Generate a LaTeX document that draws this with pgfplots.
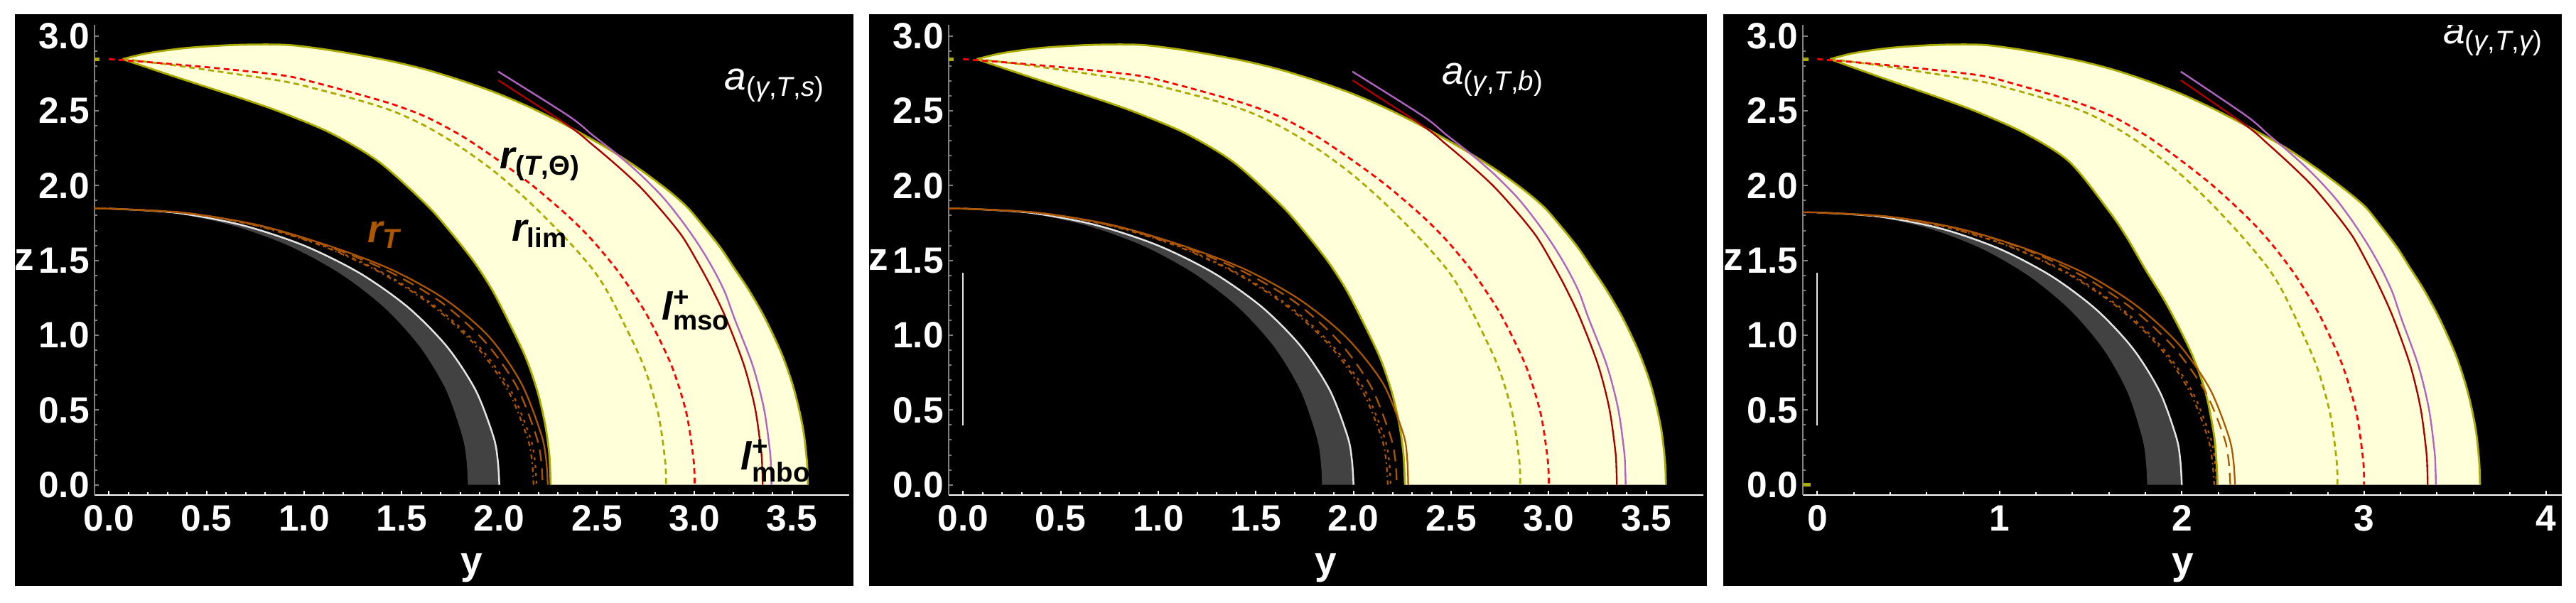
\documentclass[border=0pt]{standalone}
\usepackage{amsmath}
\usepackage{fontspec}
\setmainfont{Liberation Sans}
\usepackage{pgfplots}
\usepackage{pgfplotstable}
\pgfplotsset{compat=1.18}
\usepgfplotslibrary{fillbetween}

\definecolor{lyel}{RGB}{255,255,218}
\definecolor{oliv}{RGB}{170,170,0}
\definecolor{dkred}{RGB}{170,0,0}
\definecolor{purp}{RGB}{178,98,192}
\definecolor{orng}{RGB}{172,86,0}
\definecolor{band}{RGB}{66,66,66}
\definecolor{wline}{RGB}{228,228,228}

% outer / inner border of the yellow region
\pgfplotstableread{
x z
0.07 2.845
0.2 2.885
0.4 2.92
0.65 2.94
0.898 2.941
1.08 2.915
1.262 2.877
1.45 2.83
1.626 2.774
1.81 2.70
1.99 2.616
2.17 2.515
2.354 2.395
2.548 2.253
2.718 2.11
2.864 1.968
2.961 1.857
3.034 1.746
3.131 1.588
3.204 1.446
3.277 1.304
3.361 1.113
3.445 0.88
3.50 0.68
3.534 0.512
3.559 0.35
3.576 0.15
3.580 0
}\outerA
\pgfplotstableread{
x z
0.07 2.845
0.2 2.885
0.4 2.92
0.65 2.94
0.898 2.941
1.08 2.915
1.262 2.877
1.45 2.83
1.626 2.774
1.81 2.70
1.99 2.616
2.17 2.515
2.354 2.395
2.548 2.253
2.725 2.11
2.875 1.968
2.975 1.857
3.05 1.746
3.148 1.588
3.222 1.446
3.295 1.304
3.38 1.113
3.464 0.88
3.52 0.68
3.554 0.512
3.579 0.35
3.596 0.15
3.600 0
}\outerB
\pgfplotstableread{
x z
0.07 2.845
0.2 2.885
0.4 2.92
0.65 2.94
0.898 2.941
1.08 2.915
1.262 2.877
1.45 2.83
1.626 2.774
1.81 2.70
1.99 2.616
2.17 2.515
2.36 2.395
2.57 2.253
2.745 2.11
2.90 1.968
3.007 1.857
3.081 1.746
3.18 1.588
3.254 1.446
3.328 1.304
3.413 1.113
3.499 0.88
3.555 0.68
3.59 0.512
3.615 0.35
3.632 0.15
3.636 0
}\outerC
\pgfplotstableread{
x z
0.07 2.845
0.342 2.726
0.704 2.572
0.898 2.482
1.141 2.348
1.384 2.158
1.626 1.873
1.75 1.69
1.869 1.493
1.96 1.31
2.039 1.113
2.135 0.851
2.196 0.62
2.235 0.40
2.256 0.2
2.263 0
}\innerA
\pgfplotstableread{
x z
0.07 2.845
0.342 2.726
0.704 2.572
0.898 2.482
1.141 2.348
1.384 2.158
1.60 1.83
1.70 1.65
1.80 1.44
1.92 1.20
2.052 0.882
2.131 0.614
2.177 0.329
2.192 0.12
2.196 0
}\innerC
% dashed limits
\pgfplotstableread{
x z
0.0 2.845
0.25 2.82
0.55 2.785
0.898 2.735
1.08 2.68
1.262 2.616
1.45 2.545
1.626 2.458
1.81 2.33
1.99 2.173
2.17 2.0
2.354 1.794
2.475 1.636
2.597 1.446
2.682 1.288
2.765 1.113
2.882 0.797
2.958 0.48
2.995 0.164
3.0 0
}\rTT
\pgfplotstableread{
x z
0.07 2.845
0.3 2.81
0.6 2.755
0.898 2.696
1.08 2.64
1.262 2.577
1.45 2.50
1.626 2.395
1.81 2.25
1.99 2.078
2.17 1.87
2.354 1.627
2.475 1.446
2.548 1.304
2.625 1.113
2.739 0.796
2.813 0.48
2.849 0.164
2.854 0
}\rlim
\pgfplotstableread{
x z
1.994 2.704
2.354 2.40
2.475 2.275
2.597 2.14
2.718 1.995
2.839 1.82
2.936 1.662
3.009 1.503
3.082 1.329
3.161 1.113
3.253 0.80
3.310 0.512
3.341 0.228
3.347 0.1
3.349 0
}\lmso
\pgfplotstableread{
x z
1.994 2.762
2.354 2.466
2.475 2.34
2.597 2.215
2.718 2.079
2.839 1.92
2.936 1.762
3.021 1.604
3.094 1.446
3.155 1.288
3.204 1.113
3.297 0.80
3.355 0.512
3.386 0.228
3.392 0.1
3.394 0
}\lmbo
% inner dark region
\pgfplotstableread{
x z
0.0 1.846
0.347 1.818
0.684 1.735
1.0 1.599
1.286 1.414
1.532 1.187
1.732 0.923
1.879 0.631
1.970 0.321
1.992 0.161
2.0 0
}\whiteA
\pgfplotstableread{
x z
0.0 1.846
0.319 1.818
0.629 1.735
0.920 1.599
1.182 1.414
1.409 1.187
1.593 0.923
1.728 0.631
1.811 0.321
1.832 0.161
1.839 0
}\grayA
\pgfplotstableread{
x z
0.0 1.82
0.347 1.792
0.684 1.711
1.0 1.577
1.286 1.394
1.532 1.170
1.732 0.910
1.879 0.622
1.970 0.317
1.992 0.159
2.0 0
}\whiteC
\pgfplotstableread{
x z
0.0 1.82
0.314 1.792
0.619 1.711
0.905 1.577
1.163 1.394
1.386 1.170
1.568 0.910
1.701 0.622
1.782 0.317
1.803 0.159
1.81 0
}\grayC
% r_T family
\pgfplotstableread{
x z
-0.075 1.846
0.0 1.846
0.390 1.818
0.769 1.735
1.124 1.599
1.445 1.44
1.722 1.24
1.947 0.99
2.112 0.68
2.214 0.34
2.24 0.165
2.248 0
}\oSolidA
\pgfplotstableread{
x z
-0.075 1.846
0.0 1.846
0.390 1.818
0.769 1.735
1.124 1.599
1.445 1.44
1.722 1.24
1.96 0.99
2.15 0.68
2.255 0.34
2.275 0.17
2.28 0
}\oSolidB
\pgfplotstableread{
x z
-0.078 1.82
0.0 1.82
0.398 1.792
0.784 1.711
1.146 1.577
1.473 1.41
1.756 1.193
1.985 0.937
2.154 0.641
2.257 0.325
2.283 0.163
2.292 0
}\oSolidC
\pgfplotstableread{
x z
-0.075 1.846
0.0 1.846
0.386 1.818
0.760 1.735
1.111 1.599
1.428 1.43
1.702 1.22
1.924 0.96
2.088 0.66
2.188 0.33
2.214 0.165
2.222 0
}\oDashA
\pgfplotstableread{
x z
-0.078 1.82
0.0 1.82
0.393 1.792
0.775 1.711
1.133 1.577
1.457 1.394
1.736 1.170
1.962 0.910
2.129 0.622
2.232 0.317
2.257 0.159
2.266 0
}\oDashC
\pgfplotstableread{
x z
0.0 1.846
0.380 1.818
0.749 1.735
1.095 1.599
1.408 1.414
1.678 1.187
1.897 0.923
2.058 0.631
2.157 0.321
2.182 0.161
2.19 0
}\oDotA
\pgfplotstableread{
x z
0.0 1.846
0.378 1.818
0.744 1.735
1.088 1.599
1.398 1.414
1.666 1.187
1.884 0.923
2.044 0.631
2.142 0.321
2.167 0.161
2.175 0
}\oDashDotA
\pgfplotstableread{
x z
0.0 1.82
0.380 1.792
0.749 1.711
1.095 1.577
1.408 1.394
1.678 1.170
1.897 0.910
2.058 0.622
2.157 0.317
2.182 0.159
2.19 0
}\oDotC
\pgfplotstableread{
x z
0.0 1.82
0.378 1.792
0.744 1.711
1.088 1.577
1.398 1.394
1.666 1.170
1.884 0.910
2.044 0.622
2.142 0.317
2.167 0.159
2.178 0
}\oDashDotC

\pgfplotsset{
  every fill between plot/.style={},
  panel/.style={
    scale only axis,
    height=132.4pt,
    ymin=-0.068, ymax=3.074,
    axis x line*=bottom, axis y line*=left,
    x axis line style={white,-,line width=0.4pt},
    y axis line style={gray,-,line width=0.4pt},
    xtick style={white,line width=0.4pt},
    ytick style={gray,line width=0.4pt},
    major tick length=1.3pt, minor tick length=0.8pt,
    ytick={0,0.5,1,1.5,2,2.5,3},
    minor x tick num=4, minor y tick num=4,
    /pgf/number format/assume math mode=true,
    tick label style={font=\fontsize{10.3}{12}\selectfont\bfseries, text=white,
      /pgf/number format/fixed, /pgf/number format/fixed zerofill,
      /pgf/number format/precision=1},
    xticklabel style={anchor=north, inner sep=0pt, yshift=-2.8pt},
    yticklabel style={anchor=east, inner sep=0pt, xshift=-1.2pt},
    label style={font=\fontsize{11}{13}\selectfont\bfseries, text=white},
    xlabel={y}, ylabel={z},
    xlabel style={at={(axis description cs:0.5,0)}, anchor=center, yshift=-20.6pt},
    ylabel style={at={(axis description cs:0,0.5)}, anchor=center, rotate=-90, xshift=-19.7pt},
  },
  olive line/.style={oliv, line width=0.55pt, smooth},
  dash limit/.style={line width=0.55pt, dash pattern=on 1.6pt off 1.1pt, smooth},
  orange solid/.style={orng, line width=0.45pt, smooth},
  orange dash/.style={orng, line width=0.45pt, dash pattern=on 3.3pt off 2pt, smooth},
  orange dot/.style={orng, line width=0.45pt, dash pattern=on 0.8pt off 1.4pt, smooth},
  orange dashdot/.style={orng, line width=0.45pt, dash pattern=on 1.3pt off 1pt on 0.4pt off 1pt, smooth},
}
\tikzset{
  lbl/.style={font=\fontsize{11}{13}\selectfont\bfseries, inner sep=0pt, anchor=base west},
  albl/.style={font=\fontsize{11}{13}\selectfont, text=white, inner sep=0pt, anchor=base west},
}

\begin{document}
\begin{tikzpicture}
\fill[white] (0pt,0pt) rectangle (725pt,169.6pt);
\fill[black] (4.2pt,4.6pt) rectangle (240.2pt,165.6pt);
\fill[black] (244.6pt,4.6pt) rectangle (480.4pt,165.6pt);
\fill[black] (485pt,4.6pt) rectangle (721pt,165.6pt);

% ---- panel 1
\begin{axis}[panel, at={(26.54pt,30.2pt)}, anchor=south west, width=212.4pt,
  xmin=-0.075, xmax=3.791, xtick={0,0.5,1,1.5,2,2.5,3,3.5}]
\addplot[name path=O, draw=none, smooth] table {\outerA};
\addplot[name path=I, draw=none, smooth] table {\innerA};
\addplot[lyel] fill between[of=O and I];
\addplot[name path=W, draw=none, smooth] table {\whiteA};
\addplot[name path=G, draw=none, smooth] table {\grayA};
\addplot[band] fill between[of=W and G];
\addplot[olive line] table {\outerA};
\addplot[olive line] table {\innerA};
\addplot[wline, line width=0.5pt, smooth] table {\whiteA};
\addplot[orange dashdot] table {\oDashDotA};
\addplot[orange dot] table {\oDotA};
\addplot[orange dash] table {\oDashA};
\addplot[orange solid] table {\oSolidA};
\addplot[oliv, dash limit] table {\rlim};
\addplot[red, dash limit] table {\rTT};
\addplot[dkred, line width=0.47pt, smooth] table {\lmso};
\addplot[purp, line width=0.47pt, smooth] table {\lmbo};
\addplot[oliv, line width=1pt] coordinates {(-0.075,2.845) (-0.05,2.845)};
\node[albl] at (axis cs:3.15,2.64) {{\itshape a}$_{\text{(\itshape γ\upshape ,\itshape T\upshape ,\itshape s\upshape )}}$};
\node[lbl] at (axis cs:2.0,2.115) {{\itshape r}$_{\text{(\itshape T\upshape ,Θ)}}$};
\node[lbl] at (axis cs:2.06,1.63) {{\itshape r}$_{\text{lim}}$};
\node[lbl, text=orng] at (axis cs:1.322,1.618) {{\itshape r}$_{\text{\itshape T}}$};
\node[lbl] at (axis cs:2.83,1.10) {{\itshape l}$^{\text{+}}_{\text{mso}}$};
\node[lbl] at (axis cs:3.235,0.10) {{\itshape l}$^{\text{+}}_{\text{mbo}}$};
\end{axis}

% ---- panel 2
\begin{axis}[panel, at={(266.94pt,30.2pt)}, anchor=south west, width=212.4pt,
  xmin=-0.075, xmax=3.791, xtick={0,0.5,1,1.5,2,2.5,3,3.5}]
\addplot[name path=O, draw=none, smooth] table {\outerB};
\addplot[name path=I, draw=none, smooth] table {\innerA};
\addplot[lyel] fill between[of=O and I];
\addplot[name path=W, draw=none, smooth] table {\whiteA};
\addplot[name path=G, draw=none, smooth] table {\grayA};
\addplot[band] fill between[of=W and G];
\addplot[olive line] table {\outerB};
\addplot[olive line] table {\innerA};
\addplot[wline, line width=0.5pt, smooth] table {\whiteA};
\addplot[orange dashdot] table {\oDashDotA};
\addplot[orange dot] table {\oDotA};
\addplot[orange dash] table {\oDashA};
\addplot[orange solid] table {\oSolidB};
\addplot[oliv, dash limit] table {\rlim};
\addplot[red, dash limit] table {\rTT};
\addplot[dkred, line width=0.47pt, smooth] table {\lmso};
\addplot[purp, line width=0.47pt, smooth] table {\lmbo};
\addplot[wline, line width=0.4pt] coordinates {(0,0.396) (0,1.417)};
\addplot[oliv, line width=1pt] coordinates {(-0.075,2.845) (-0.05,2.845)};
\node[albl] at (axis cs:2.45,2.68) {{\itshape a}$_{\text{(\itshape γ\upshape ,\itshape T\upshape ,\itshape b\upshape )}}$};
\end{axis}

% ---- panel 3
\begin{axis}[panel, at={(507.46pt,30.2pt)}, anchor=south west, width=213.6pt,
  xmin=-0.078, xmax=4.086, xtick={0,1,2,3,4},
  xticklabel style={/pgf/number format/precision=0}]
\addplot[name path=O, draw=none, smooth] table {\outerC};
\addplot[name path=I, draw=none, smooth] table {\innerC};
\addplot[lyel] fill between[of=O and I];
\addplot[name path=W, draw=none, smooth] table {\whiteC};
\addplot[name path=G, draw=none, smooth] table {\grayC};
\addplot[band] fill between[of=W and G];
\addplot[olive line] table {\outerC};
\addplot[olive line] table {\innerC};
\addplot[wline, line width=0.5pt, smooth] table {\whiteC};
\addplot[orange dashdot] table {\oDashDotC};
\addplot[orange dot] table {\oDotC};
\addplot[orange dash] table {\oDashC};
\addplot[orange solid] table {\oSolidC};
\addplot[oliv, dash limit] table {\rlim};
\addplot[red, dash limit] table {\rTT};
\addplot[dkred, line width=0.47pt, smooth] table {\lmso};
\addplot[purp, line width=0.47pt, smooth] table {\lmbo};
\addplot[wline, line width=0.4pt] coordinates {(0,0.396) (0,1.417)};
\addplot[oliv, line width=1pt] coordinates {(-0.078,2.845) (-0.05,2.845)};
\addplot[oliv, line width=1pt] coordinates {(-0.078,0.0) (-0.035,0.0)};
\node[albl] at (axis cs:3.43,2.95) {{\itshape a}$_{\text{(\itshape γ\upshape ,\itshape T\upshape ,\itshape γ\upshape )}}$};
\end{axis}
\end{tikzpicture}
\end{document}
